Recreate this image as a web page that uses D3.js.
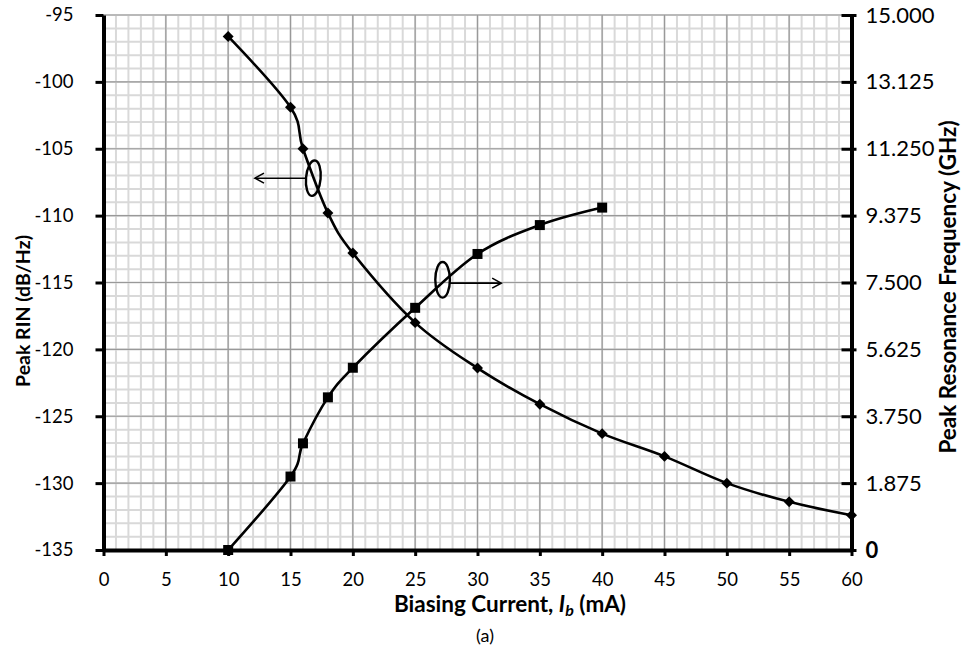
<!DOCTYPE html>
<html>
<head>
<meta charset="utf-8">
<title>Peak RIN and resonance frequency</title>
<script src="https://d3js.org/d3.v7.min.js"></script>
<style>
  body { margin: 0; background: #fff; }
  text { font-family: Lato, "Open Sans", sans-serif; fill: #000; }
</style>
</head>
<body>
<script>
// data
var rinCurrent = [10, 15, 16, 18, 20, 25, 30, 35, 40, 45, 50, 55, 60];
var rinValues = [-96.6, -101.9, -105.0, -109.8, -112.8, -118.0, -121.4, -124.1, -126.3, -128.0, -130.0, -131.4, -132.4];
var freqCurrent = [10, 15, 16, 18, 20, 25, 30, 35, 40];
var freqValues = [0, 2.06, 2.99, 4.28, 5.11, 6.79, 8.30, 9.11, 9.60];

var xTicks = [0, 5, 10, 15, 20, 25, 30, 35, 40, 45, 50, 55, 60];
var leftTicks = [-135, -130, -125, -120, -115, -110, -105, -100, -95];
var rightTicks = [0, 1.875, 3.75, 5.625, 7.5, 9.375, 11.25, 13.125, 15];
var rightTickLabels = ["0", "1.875", "3.750", "5.625", "7.500", "9.375", "11.250", "13.125", "15.000"];

// ellipse + arrow markers: [ellipse x, ellipse y (dB/Hz), arrow from x, arrow to x, arrow y]
var leftNote = [16.83, -107.2, 16.3, 12.15, -107.2];
var rightNote = [27.2, -114.8, 27.8, 31.9, -115.05];

var W = 967, H = 653;
var svg = d3.select("body").append("svg").attr("width", W).attr("height", H);

var x = d3.scaleLinear().domain([0, 60]).range([103.5, 851.5]);
var yL = d3.scaleLinear().domain([-135, -95]).range([550, 15]);
var yR = d3.scaleLinear().domain([0, 15]).range([550, 15]);

// grid: minor first, then major
var grid = svg.append("g");
grid.selectAll("line.vminor").data(x.ticks(60)).enter().append("line")
  .attr("x1", function(d){ return x(d); }).attr("x2", function(d){ return x(d); })
  .attr("y1", yL(-95)).attr("y2", yL(-135))
  .attr("stroke", "#d9d9d9").attr("stroke-width", 2);
grid.selectAll("line.hminor").data(yL.ticks(40)).enter().append("line")
  .attr("y1", function(d){ return yL(d); }).attr("y2", function(d){ return yL(d); })
  .attr("x1", x(0)).attr("x2", x(60))
  .attr("stroke", "#d9d9d9").attr("stroke-width", 2);
grid.selectAll("line.vmajor").data(xTicks).enter().append("line")
  .attr("x1", function(d){ return x(d); }).attr("x2", function(d){ return x(d); })
  .attr("y1", yL(-95)).attr("y2", yL(-135))
  .attr("stroke", "#999").attr("stroke-width", 1.2);
grid.selectAll("line.hmajor").data(leftTicks).enter().append("line")
  .attr("y1", function(d){ return yL(d); }).attr("y2", function(d){ return yL(d); })
  .attr("x1", x(0)).attr("x2", x(60))
  .attr("stroke", "#999").attr("stroke-width", 1.2);

// curves
var rinPts = rinCurrent.map(function(c, i){ return [c, rinValues[i]]; });
var freqPts = freqCurrent.map(function(c, i){ return [c, freqValues[i]]; });

var rinLine = d3.line().x(function(d){ return x(d[0]); }).y(function(d){ return yL(d[1]); })
  .curve(d3.curveCatmullRom.alpha(0));
var freqLine = d3.line().x(function(d){ return x(d[0]); }).y(function(d){ return yR(d[1]); })
  .curve(d3.curveCatmullRom.alpha(0));

svg.append("path").attr("d", rinLine(rinPts)).attr("fill", "none").attr("stroke", "#000").attr("stroke-width", 2.6);
svg.append("path").attr("d", freqLine(freqPts)).attr("fill", "none").attr("stroke", "#000").attr("stroke-width", 2.6);

// annotations
function note(n, tilt) {
  var g = svg.append("g");
  g.append("ellipse").attr("cx", x(n[0])).attr("cy", yL(n[1])).attr("rx", 7.3).attr("ry", 17.8)
    .attr("fill", "none").attr("stroke", "#000").attr("stroke-width", 2.4)
    .attr("transform", "rotate(" + tilt + "," + x(n[0]) + "," + yL(n[1]) + ")");
  g.append("line").attr("x1", x(n[2])).attr("x2", x(n[3])).attr("y1", yL(n[4])).attr("y2", yL(n[4]))
    .attr("stroke", "#000").attr("stroke-width", 1.6);
  var dir = x(n[3]) > x(n[2]) ? -1 : 1;
  g.append("path")
    .attr("d", "M" + (x(n[3]) + dir * 9) + "," + (yL(n[4]) - 5) + "L" + x(n[3]) + "," + yL(n[4]) + "L" + (x(n[3]) + dir * 9) + "," + (yL(n[4]) + 5))
    .attr("fill", "none").attr("stroke", "#000").attr("stroke-width", 1.6);
}
note(leftNote, 5);
note(rightNote, 0);

// markers
var diamond = d3.symbol().type(d3.symbolSquare).size(60);
svg.selectAll("path.dia").data(rinPts).enter().append("path")
  .attr("d", diamond)
  .attr("transform", function(d){ return "translate(" + x(d[0]) + "," + yL(d[1]) + ") rotate(45)"; })
  .attr("fill", "#000");
var square = d3.symbol().type(d3.symbolSquare).size(100);
svg.selectAll("path.sq").data(freqPts).enter().append("path")
  .attr("d", square)
  .attr("transform", function(d){ return "translate(" + x(d[0]) + "," + yR(d[1]) + ")"; })
  .attr("fill", "#000");

// axes
var gx = svg.append("g").attr("transform", "translate(0," + yL(-135) + ")")
  .call(d3.axisBottom(x).tickValues(xTicks).tickSize(6).tickSizeOuter(0).tickPadding(17));
var gl = svg.append("g").attr("transform", "translate(" + x(0) + ",0)")
  .call(d3.axisLeft(yL).tickValues(leftTicks).tickSize(8).tickSizeOuter(0).tickPadding(22)
    .tickFormat(function(d){ return String(d); }));
var gr = svg.append("g").attr("transform", "translate(" + x(60) + ",0)")
  .call(d3.axisRight(yR).tickValues(rightTicks).tickSize(5).tickSizeOuter(0).tickPadding(9)
    .tickFormat(function(d, i){ return rightTickLabels[i]; }));
gr.selectAll(".tick line").attr("x1", -10);

[gx, gl, gr].forEach(function(g){
  g.select(".domain").attr("stroke", "#000").attr("stroke-width", 4);
  g.selectAll(".tick line").attr("stroke", "#000").attr("stroke-width", 3);
  g.selectAll(".tick text").style("font-family", "Lato, sans-serif").attr("fill", "#000");
});
gx.selectAll(".tick text").style("font-size", "18.5px");
gl.selectAll(".tick text").style("font-size", "18.5px");
gr.selectAll(".tick text").style("font-size", "22px");
gr.selectAll(".tick text").filter(function(d){ return d === 0; }).style("font-weight", "bold");

// titles
svg.append("text").attr("transform", "translate(30,311) rotate(-90)")
  .attr("text-anchor", "middle").style("font-size", "19.5px").style("font-weight", "bold")
  .text("Peak RIN (dB/Hz)");
svg.append("text").attr("transform", "translate(956,287) rotate(-90)")
  .attr("text-anchor", "middle").style("font-size", "22.5px").style("font-weight", "bold")
  .text("Peak Resonance Frequency (GHz)");

var xt = svg.append("text").attr("x", 510).attr("y", 612).attr("text-anchor", "middle")
  .style("font-size", "22.5px").style("font-weight", "bold");
xt.append("tspan").text("Biasing Current, ");
xt.append("tspan").style("font-style", "italic").text("I");
xt.append("tspan").style("font-style", "italic").style("font-size", "16px").attr("dy", 4).text("b");
xt.append("tspan").attr("dy", -4).text(" (mA)");

svg.append("text").attr("x", 485).attr("y", 642).attr("text-anchor", "middle")
  .style("font-size", "18px").text("(a)");
</script>
</body>
</html>
